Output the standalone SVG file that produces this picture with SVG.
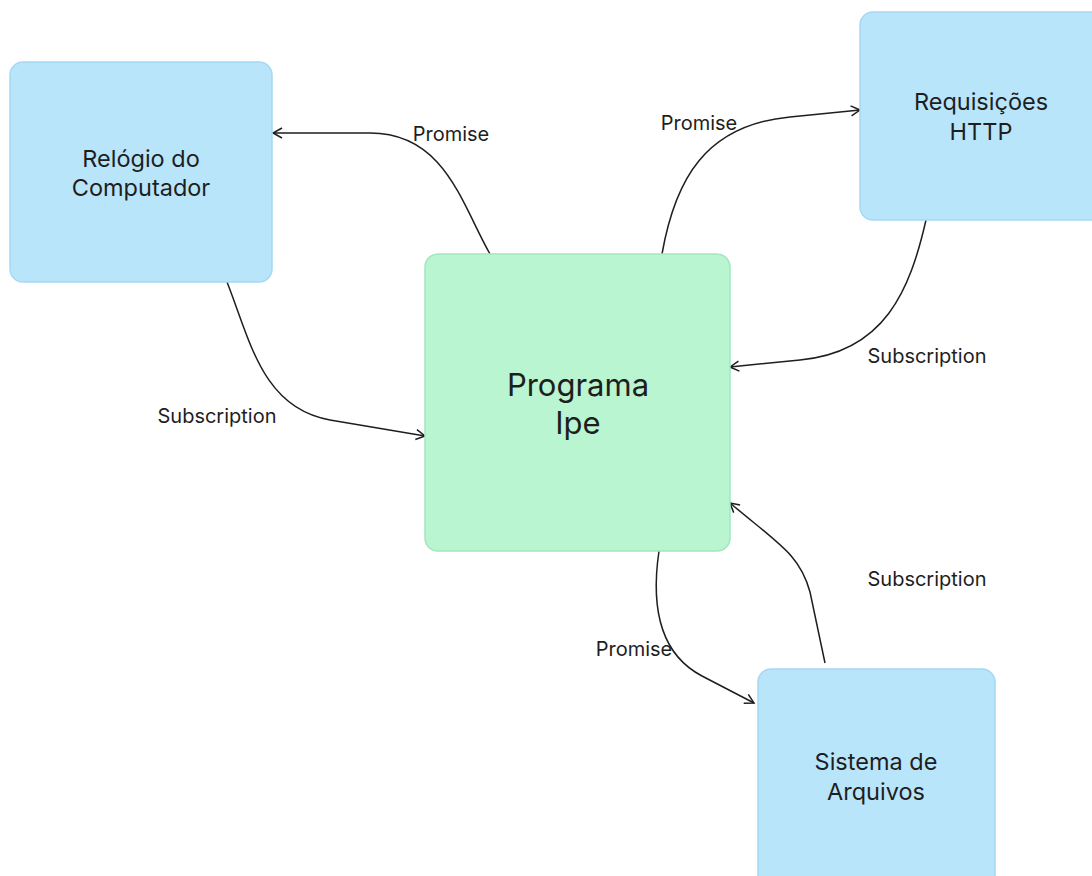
<svg xmlns="http://www.w3.org/2000/svg" width="1092" height="876" viewBox="0 0 1092 876">
<style>
.blue{fill:#b9e5fb;stroke:#a5d8f5;stroke-width:1.5}
.green{fill:#b8f5d0;stroke:#a3e6bd;stroke-width:1.5}
.nt{font-family:Inter,"Liberation Sans",sans-serif;font-size:23.5px;fill:#1e1e1e;text-anchor:middle}
.big{font-size:31px}
.lbl{font-family:Inter,"Liberation Sans",sans-serif;font-size:20px;fill:#1e1e1e;text-anchor:middle}
.edge{fill:none;stroke:#1e1e1e;stroke-width:1.5;marker-end:url(#ah)}
</style>
<defs>
<marker id="ah" markerWidth="14" markerHeight="14" refX="12" refY="7" orient="auto" markerUnits="userSpaceOnUse">
<path d="M3,2 L12,7 L3,12" fill="none" stroke="#1e1e1e" stroke-width="1.5"/>
</marker>
</defs>
<rect width="1092" height="876" fill="#ffffff"/>
<g id="connectors">
<path class="edge" d="M490,254 C462,205 445,133 370,133 L273,133"/>
<path class="edge" d="M227,282 C250,340 262,408 330,420 L425,436"/>
<path class="edge" d="M662,254 C675,180 705,125 790,117 L860,110"/>
<path class="edge" d="M926,220 C910,290 885,352 800,360 L730,367"/>
<path class="edge" d="M825,663 L810,592 C800,555 780,545 730,503"/>
<path class="edge" d="M659,551 C650,612 662,655 702,676 L754,703"/>
<text class="lbl" x="451" y="141">Promise</text>
<text class="lbl" x="217" y="423">Subscription</text>
<text class="lbl" x="699" y="130">Promise</text>
<text class="lbl" x="927" y="363">Subscription</text>
<text class="lbl" x="927" y="586">Subscription</text>
<text class="lbl" x="634" y="656">Promise</text>
</g>
<g id="relogio">
<rect class="blue" x="10" y="62" width="262" height="220" rx="13"/>
<text class="nt" x="141" y="167">Relógio do</text>
<text class="nt" x="141" y="196">Computador</text>
</g>
<g id="requisicoes">
<rect class="blue" x="860" y="12" width="250" height="208" rx="13"/>
<text class="nt" x="981" y="110">Requisições</text>
<text class="nt" x="981" y="140">HTTP</text>
</g>
<g id="programa">
<rect class="green" x="425" y="254" width="305" height="297" rx="13"/>
<text class="nt big" x="578" y="396">Programa</text>
<text class="nt big" x="578" y="434">Ipe</text>
</g>
<g id="sistema">
<rect class="blue" x="758" y="669" width="237" height="230" rx="13"/>
<text class="nt" x="876" y="770">Sistema de</text>
<text class="nt" x="876" y="800">Arquivos</text>
</g>
</svg>
